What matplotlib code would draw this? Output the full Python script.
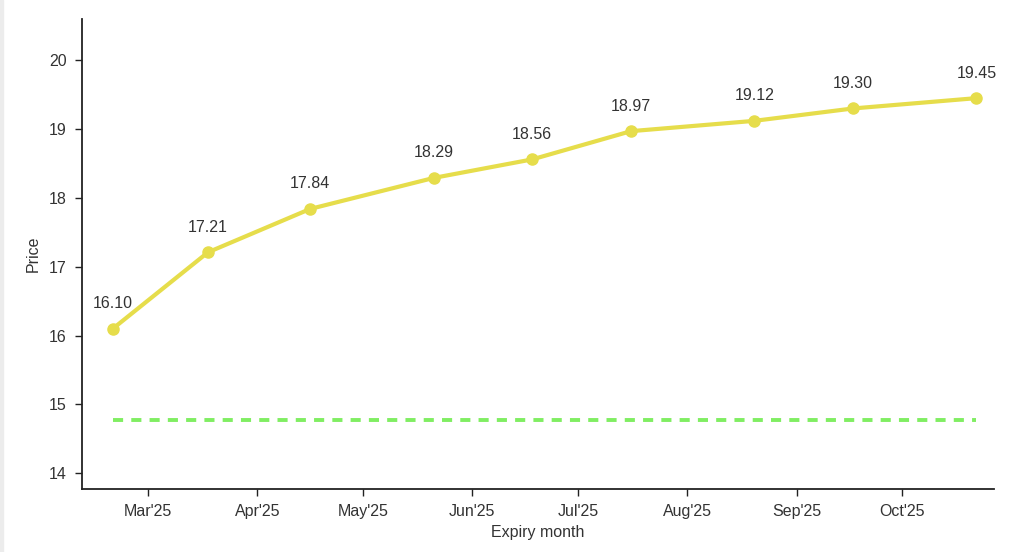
import datetime as dt

import matplotlib
matplotlib.use("Agg")
import matplotlib.dates as mdates
import matplotlib.pyplot as plt
from matplotlib.patches import Rectangle

# expiry dates and settlement prices
expiries = [
    "2025-02-19", "2025-03-18", "2025-04-16", "2025-05-21", "2025-06-18",
    "2025-07-16", "2025-08-20", "2025-09-17", "2025-10-22",
]
prices = [16.10, 17.21, 17.84, 18.29, 18.56, 18.97, 19.12, 19.30, 19.45]
spot_level = 14.77

dates = [dt.datetime.strptime(d, "%Y-%m-%d") for d in expiries]

plt.rcParams["font.family"] = ["Liberation Sans", "DejaVu Sans"]

fig = plt.figure(figsize=(10.24, 5.52), dpi=100)
ax = fig.add_axes([82 / 1024, 1 - 489 / 552, (994 - 82) / 1024, (489 - 19) / 552])

# thin grey strip on the left edge of the screenshot
fig.patches.append(Rectangle((0, 0), 3 / 1024, 1, transform=fig.transFigure,
                             color="#ececec", zorder=0))

ax.plot(dates, prices, color="#e6dd4b", lw=3, marker="o", ms=8, zorder=3)
ax.plot([dates[0], dates[-1]], [spot_level, spot_level], color="#80ee62",
        lw=2.8, ls=(0, (2.6, 2.1)), zorder=2)

for d, p in zip(dates, prices):
    ax.annotate(f"{p:.2f}", (d, p), xytext=(0, 18), textcoords="offset points",
                ha="center", va="center", fontsize=11.5, color="#333333")

ax.set_xlim(dt.datetime(2025, 2, 10, 6), dt.datetime(2025, 10, 27))
ax.set_ylim(13.77, 20.6)
ax.set_yticks([14, 15, 16, 17, 18, 19, 20])

ax.xaxis.set_major_locator(mdates.MonthLocator())
ax.xaxis.set_major_formatter(mdates.DateFormatter("%b'%y"))

for side in ["top", "right"]:
    ax.spines[side].set_visible(False)
for side in ["left", "bottom"]:
    ax.spines[side].set_linewidth(1.3)
    ax.spines[side].set_color("#222222")

ax.tick_params(axis="both", labelsize=11.5, colors="#222222", length=5, width=1,
               labelcolor="#333333")
ax.tick_params(axis="x", pad=6)
ax.tick_params(axis="y", pad=6)
ax.set_xlabel("Expiry month", fontsize=11.5, color="#333333", labelpad=4)
ax.set_ylabel("Price", fontsize=11.5, color="#333333", labelpad=6)

fig.savefig("out.png", dpi=100)
